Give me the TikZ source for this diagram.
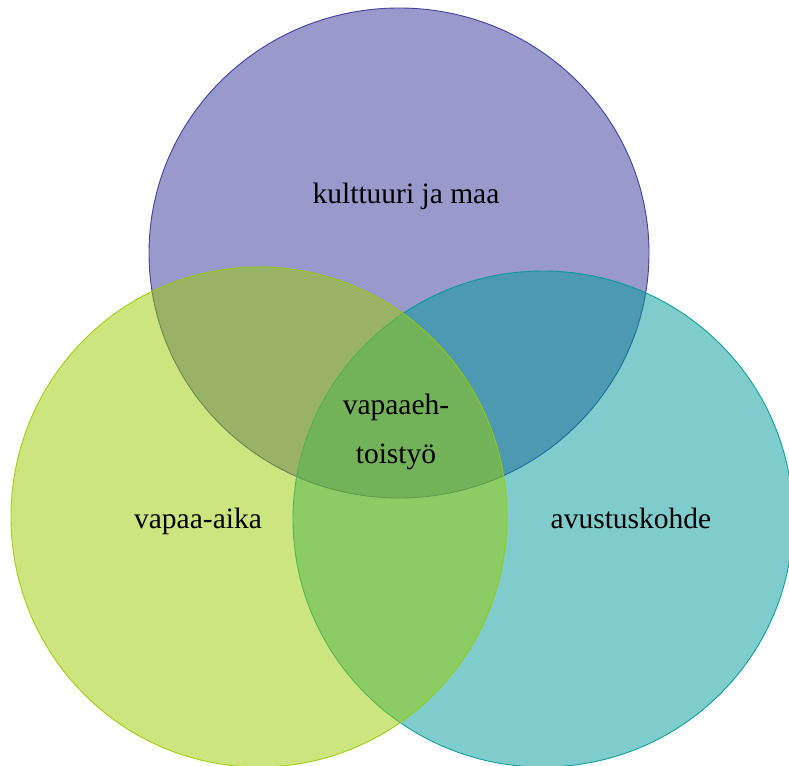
\documentclass[tikz,border=0pt]{standalone}
\usepackage{fontspec}
\setmainfont{Liberation Serif}
\definecolor{cpurple}{HTML}{333399}
\definecolor{cteal}{HTML}{009999}
\definecolor{cgreen}{HTML}{99CC00}
\begin{document}
\begin{tikzpicture}[x=1pt,y=-1pt,
  setc/.style={fill=#1,fill opacity=0.5,draw=#1,draw opacity=0.9,line width=0.9pt},
  lbl/.style={font=\fontsize{29.5}{32}\selectfont,anchor=base,text=black}]
\useasboundingbox (0,0) rectangle (789,765);
\begin{scope}
\clip (0,0) rectangle (789,765);
\path[setc=cpurple] (399,253) ellipse [x radius=250, y radius=245];
\path[setc=cteal] (543,519) ellipse [x radius=250, y radius=248];
\path[setc=cgreen] (259,517) ellipse [x radius=248, y radius=250];
\end{scope}
\node[lbl] (k) at (406,203) {kulttuuri ja maa};
\node[lbl] (v) at (198,528) {vapaa-aika};
\node[lbl] (a) at (631,528) {avustuskohde};
\node[lbl] (c1) at (396,414) {vapaaeh-};
\node[lbl] (c2) at (396,463) {toistyö};
\end{tikzpicture}
\end{document}
